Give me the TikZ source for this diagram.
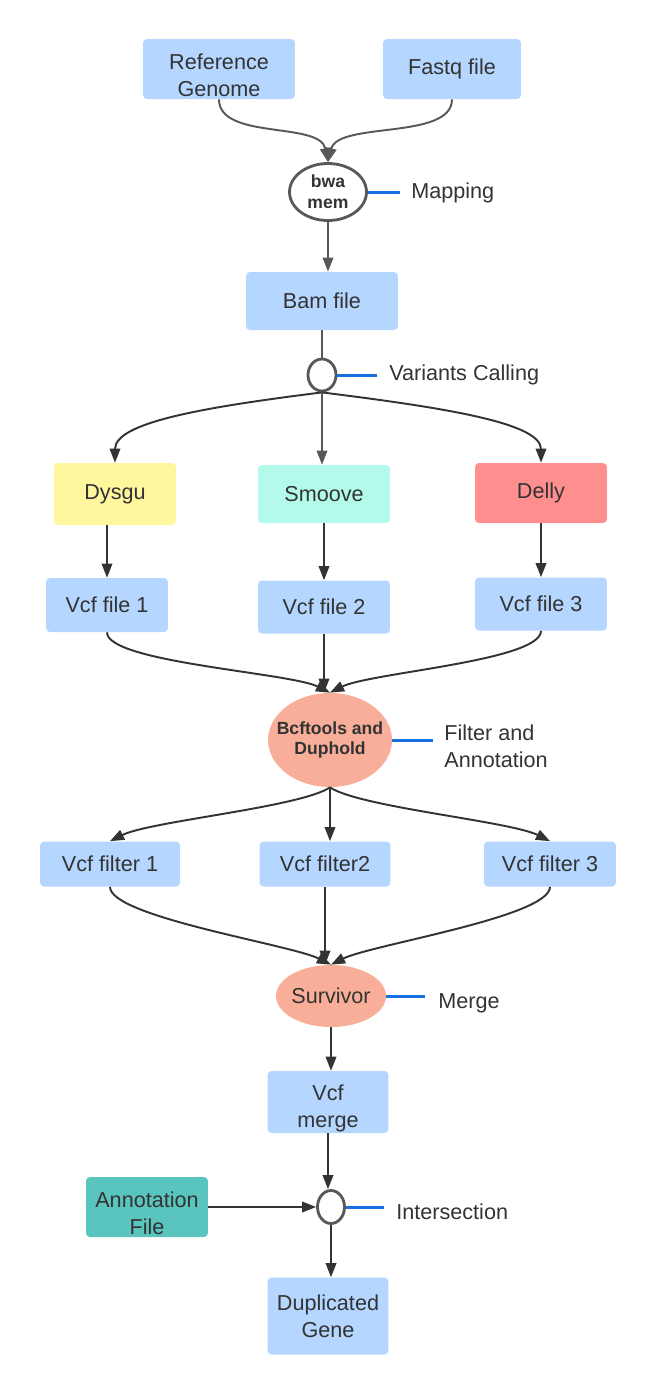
\documentclass[tikz,border=0pt]{standalone}
\usepackage{fontspec}
\setmainfont{Liberation Sans}
\usetikzlibrary{shapes.geometric, arrows.meta}

\definecolor{boxblue}{RGB}{180,214,255}
\definecolor{dysgucol}{RGB}{255,246,158}
\definecolor{smoovecol}{RGB}{180,250,234}
\definecolor{dellycol}{RGB}{255,143,143}
\definecolor{annotcol}{RGB}{90,196,190}
\definecolor{salmon}{RGB}{248,174,152}
\definecolor{tagblue}{RGB}{26,111,224}
\definecolor{ink}{RGB}{51,51,51}
\definecolor{greyline}{RGB}{88,88,88}

\begin{document}
\begin{tikzpicture}[x=0.02cm, y=-0.02cm,
  every node/.style={font=\fontsize{12.3}{15.3}\selectfont, text=ink},
  box/.style={rectangle, rounded corners=2.3pt, fill=boxblue, align=center, inner sep=0pt},
  lowtext/.style={label={[align=center, yshift=-0.13cm]center:#1}},
  oval/.style={ellipse, fill=salmon, inner sep=0pt},
  hub/.style={ellipse, draw=greyline, line width=1.6pt, fill=white, inner sep=0pt},
  boldtxt/.style={font=\bfseries\fontsize{10}{11.8}\selectfont, align=center},
  arr/.style={draw=ink, line width=1.1pt, -{Triangle[width=6pt,length=8pt]}},
  garr/.style={arr, draw=greyline},
  tag/.style={draw=tagblue, line width=1.7pt},
  steplabel/.style={inner sep=0pt, anchor=base west}
]
\useasboundingbox (0,0) rectangle (665,1397);

% --- Inputs and mapping ---
\node[box, minimum width=3.04cm, minimum height=1.2cm, lowtext={Reference\\Genome}] (ref) at (219,69) {};
\node[box, minimum width=2.76cm, minimum height=1.2cm] (fastq) at (452,69) {Fastq file};
\node[hub, boldtxt, minimum width=1.54cm, minimum height=1.14cm] (bwa) at (328,192) {bwa\\mem};
\node[steplabel] (maplab) at (411,198) {Mapping};
\node[box, minimum width=3.04cm, minimum height=1.16cm] (bam) at (322,301) {Bam file};

\draw[garr] (ref.south) .. controls +(0,41) and +(-8,-41) .. (bwa.north);
\draw[garr] (fastq.south) .. controls +(0,41) and +(10,-41) .. (bwa.north);
\draw[garr] (bwa.south) -- (bwa.south |- bam.north);

% --- Variant calling ---
\node[hub, minimum width=0.56cm, minimum height=0.64cm] (vc) at (322,375) {};
\node[steplabel] (vclab) at (389,380) {Variants Calling};
\draw[draw=greyline, line width=1.1pt] (bam.south) -- (vc.north);

\node[box, fill=dysgucol, minimum width=2.44cm, minimum height=1.24cm] (dysgu) at (115,494) {Dysgu};
\node[box, fill=smoovecol, minimum width=2.64cm, minimum height=1.16cm] (smoove) at (324,494) {Smoove};
\node[box, fill=dellycol, minimum width=2.64cm, minimum height=1.2cm] (delly) at (541,493) {Delly};

\draw[arr] (vc.south) .. controls +(-120,15) and +(0,-40) .. (dysgu.north);
\draw[garr] (vc.south) -- (vc.south |- smoove.north);
\draw[arr] (vc.south) .. controls +(120,15) and +(0,-40) .. (delly.north);

\node[box, minimum width=2.44cm, minimum height=1.08cm] (vcf1) at (107,605) {Vcf file 1};
\node[box, minimum width=2.64cm, minimum height=1.06cm] (vcf2) at (324,607) {Vcf file 2};
\node[box, minimum width=2.64cm, minimum height=1.06cm] (vcf3) at (541,604) {Vcf file 3};

\draw[arr] (vcf1.north |- dysgu.south) -- (vcf1.north);
\draw[arr] (smoove.south) -- (vcf2.north);
\draw[arr] (delly.south) -- (vcf3.north);

% --- Filter and annotation ---
\node[oval, minimum width=2.48cm, minimum height=1.88cm,
  label={[boldtxt]center:Bcftools and\\Duphold}] (bcf) at (330,740) {};
\node[inner sep=0pt, anchor=west, align=left] (falab) at (444,746) {Filter and\\Annotation};

\draw[arr] (vcf1.south) .. controls +(0,30) and +(-40,-20) .. (bcf.north);
\draw[arr] (vcf2.south) -- (vcf2.south |- bcf.north);
\draw[arr] (vcf3.south) .. controls +(0,30) and +(40,-20) .. (bcf.north);

\node[box, minimum width=2.8cm, minimum height=0.9cm] (vf1) at (110,864) {Vcf filter 1};
\node[box, minimum width=2.62cm, minimum height=0.9cm] (vf2) at (325,864) {Vcf filter2};
\node[box, minimum width=2.64cm, minimum height=0.9cm] (vf3) at (550,864) {Vcf filter 3};

\draw[arr] (bcf.south) .. controls +(-30,20) and +(40,-20) .. (vf1.north);
\draw[arr] (bcf.south) -- (bcf.south |- vf2.north);
\draw[arr] (bcf.south) .. controls +(30,20) and +(-40,-20) .. (vf3.north);

% --- Merge ---
\node[oval, minimum width=2.2cm, minimum height=1.24cm, label=center:Survivor] (surv) at (331,996) {};
\node[steplabel] (mglab) at (438,1008) {Merge};

\draw[arr] (vf1.south) .. controls +(0,30) and +(-40,-20) .. (surv.north);
\draw[arr] (vf2.south) -- (vf2.south |- surv.north);
\draw[arr] (vf3.south) .. controls +(0,30) and +(40,-20) .. (surv.north);

\node[box, minimum width=2.42cm, minimum height=1.24cm, lowtext={Vcf\\merge}] (merge) at (328,1102) {};
\draw[arr] (surv.south) -- (surv.south |- merge.north);

% --- Intersection ---
\node[box, fill=annotcol, minimum width=2.44cm, minimum height=1.2cm, lowtext={Annotation\\File}] (annot) at (147,1207) {};
\node[hub, minimum width=0.54cm, minimum height=0.66cm] (ix) at (331,1207) {};
\node[steplabel] (ixlab) at (396,1219) {Intersection};
\node[box, minimum width=2.42cm, minimum height=1.54cm] (dup) at (328,1316) {Duplicated\\Gene};

\draw[arr] (merge.south) -- (merge.south |- ix.north);
\draw[arr] (annot.east) -- (ix.west);
\draw[arr] (ix.south) -- (ix.south |- dup.north);

% --- Step tags ---
\coordinate (mapend) at (400,192);
\coordinate (vcend) at (377,375);
\coordinate (faend) at (433,740);
\coordinate (mgend) at (425,996);
\coordinate (ixend) at (384,1207);
\foreach \n/\e in {bwa/mapend, vc/vcend, bcf/faend, surv/mgend, ix/ixend}
  \draw[tag] (\n.east) -- (\e);

\end{tikzpicture}
\end{document}
